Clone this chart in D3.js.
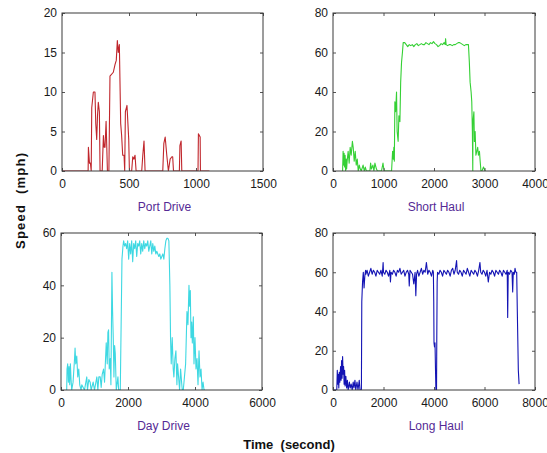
<!DOCTYPE html>
<html><head><meta charset="utf-8">
<script src="https://cdn.jsdelivr.net/npm/d3@7"></script>
<style>body{margin:0;background:#fff}svg{display:block}</style>
</head><body>
<svg id="c" width="547" height="453"></svg>
<script>
// ---------- data (time in s, speed in mph) ----------
const portDrive = [[0,0],[195,0],[197,3],[205,1],[212,1],[218,0],[222,8],[234,10],[246,10],[252,6],[259,4],[265,7],[271,8.7],[279,7.5],[284,0],[300,0],[309,4.5],[315,3],[321,3],[329,6.3],[339,0],[350,0],[358,12],[383,12.5],[396,13.5],[405,14],[413,16.5],[420,15],[428,16],[438,6],[445,4.5],[453,2],[463,2],[468,0],[473,7.5],[485,8.3],[498,4],[503,0],[520,0],[528,1.8],[537,1.5],[545,2],[553,0],[595,0],[603,2],[612,3.8],[620,0],[752,0],[760,3.5],[770,4.3],[782,2],[794,0],[807,1.5],[820,1.8],[826,1.8],[832,0],[876,0],[880,3.2],[889,3.8],[894,0],[1015,0],[1018,4.7],[1031,4.3],[1033,0],[1100,0]];

const shortHaul = [[190,0],[200,10],[210,3],[220,9],[230,2],[240,8],[250,0],[260,6],[270,1],[280,5],[300,10],[320,4],[340,12],[360,8],[384,15],[400,12],[420,5],[440,10],[460,3],[480,6],[500,0],[520,3],[540,1],[560,0],[596,3],[620,0],[640,2],[660,0],[730,0],[745,4],[760,1],[790,3],[810,0],[830,4],[860,1],[880,0],[960,0],[990,4],[1000,2],[1020,0],[1160,0],[1180,10],[1195,6],[1205,12],[1215,5],[1225,35],[1240,30],[1258,40],[1270,20],[1290,15],[1305,28],[1325,25],[1340,45],[1357,55],[1375,60],[1390,65],[1420,65],[1450,64],[1480,63],[1510,64],[1540,63.5],[1570,64],[1600,63],[1630,64],[1660,64.5],[1690,63.5],[1720,64],[1750,64.5],[1780,64],[1810,64],[1840,65],[1870,64.5],[1900,64],[1930,65],[1960,64.5],[1990,65.5],[2020,64.5],[2050,64],[2080,63],[2110,63.5],[2140,64.5],[2170,64],[2200,65],[2220,64],[2230,67],[2240,64],[2270,63.5],[2300,64],[2330,64],[2360,63.5],[2390,64],[2420,64],[2450,64.5],[2480,65],[2510,65],[2540,64.5],[2570,64],[2600,63.5],[2630,64],[2660,64],[2682,64],[2700,55],[2715,45],[2735,40],[2748,35],[2760,20],[2768,0],[2772,25],[2790,30],[2800,15],[2815,20],[2830,8],[2848,10],[2865,12],[2880,8],[2900,10],[2914,5],[2930,0],[2950,0],[2980,2],[3013,0]];

const dayDrive = [[170,0],[180,8],[200,10],[220,3],[240,9],[260,2],[280,10],[300,4],[320,0],[360,3],[400,11],[420,16],[440,10],[470,13],[500,5],[530,8],[560,2],[600,0],[620,2],[700,0],[770,5],[790,0],[830,4],[870,3],[900,0],[960,3],[1000,0],[1070,5],[1100,0],[1130,5],[1170,5],[1200,1],[1230,6],[1270,8],[1300,3],[1330,12],[1350,18],[1380,10],[1400,22],[1420,23],[1440,8],[1470,12],[1490,2],[1520,45],[1540,30],[1560,20],[1580,5],[1600,17],[1620,14],[1650,0],[1700,5],[1720,0],[1770,0],[1800,30],[1820,50],[1850,55],[1870,57],[1900,55],[1930,56],[1960,54],[1990,57],[2020,50],[2050,56],[2080,52],[2110,57],[2140,49],[2170,56],[2200,54],[2230,57],[2260,51],[2290,56],[2320,55],[2350,57],[2380,52],[2410,56],[2440,53],[2470,57],[2500,54],[2530,56],[2560,55],[2590,57],[2620,53],[2650,55],[2680,57],[2710,52],[2740,56],[2770,53],[2800,55],[2830,52],[2860,53],[2890,52],[2920,51],[2950,52],[2980,50],[3010,51],[3040,52],[3070,50],[3100,54],[3130,57],[3160,58],[3190,58],[3220,57],[3250,40],[3270,20],[3290,10],[3320,20],[3350,8],[3370,5],[3400,12],[3430,15],[3460,2],[3480,10],[3510,5],[3540,0],[3570,8],[3600,3],[3620,0],[3650,0],[3720,10],[3760,30],[3790,25],[3820,40],[3840,32],[3860,38],[3880,20],[3900,26],[3920,18],[3950,28],[3970,10],[4000,20],[4030,8],[4060,12],[4090,2],[4120,15],[4150,5],[4180,8],[4210,0],[4240,3],[4270,0],[4300,0]];

const longHaul = [[0,0],[150,0],[170,10],[190,3],[210,8],[230,1],[250,9],[270,4],[300,12],[320,5],[340,15],[360,6],[380,17],[400,8],[420,12],[440,3],[460,10],[480,2],[510,7],[540,1],[570,5],[600,0],[650,4],[680,1],[720,3],[760,0],[800,4],[830,1],[870,5],[900,0],[950,4],[990,0],[1040,5],[1070,0],[1125,0],[1140,45],[1170,55],[1200,60],[1230,52],[1260,58],[1290,61],[1300,59],[1350,61],[1400,58],[1450,60],[1500,62],[1550,59],[1600,61],[1650,60],[1700,58],[1750,61],[1800,60],[1850,59],[1900,61],[1950,58],[1985,65],[2000,60],[2050,59],[2100,61],[2150,60],[2200,58],[2250,61],[2275,55],[2300,60],[2350,59],[2400,61],[2450,60],[2500,58],[2550,61],[2600,60],[2650,62],[2700,59],[2750,60],[2800,61],[2850,58],[2900,60],[2950,61],[3000,59],[3020,53],[3050,61],[3100,60],[3150,59],[3200,54],[3250,60],[3280,48],[3310,59],[3350,61],[3400,58],[3450,60],[3500,62],[3550,59],[3600,61],[3650,60],[3700,65],[3750,59],[3800,61],[3850,60],[3900,58],[3950,61],[3975,60],[3990,45],[4000,24],[4020,22],[4040,24],[4060,10],[4075,0],[4100,0],[4110,25],[4125,55],[4140,60],[4190,59],[4240,61],[4290,60],[4340,58],[4390,61],[4440,60],[4490,59],[4540,61],[4590,60],[4640,58],[4690,61],[4740,62],[4790,59],[4840,61],[4894,66],[4920,60],[4970,59],[5020,61],[5070,60],[5120,58],[5170,61],[5220,60],[5270,59],[5320,62],[5370,60],[5420,58],[5470,61],[5520,60],[5570,59],[5620,61],[5670,60],[5720,58],[5770,61],[5820,65],[5850,60],[5900,59],[5950,61],[6000,60],[6050,58],[6100,61],[6150,55],[6200,60],[6250,59],[6300,61],[6350,60],[6400,58],[6450,61],[6500,60],[6550,59],[6600,61],[6650,60],[6700,58],[6750,61],[6800,60],[6850,59],[6900,61],[6918,37],[6940,60],[6990,59],[7040,61],[7090,60],[7116,50],[7140,60],[7180,59],[7209,62],[7240,60],[7275,60],[7300,40],[7340,10],[7370,3]];

const titles = ["Port Drive","Short Haul","Day Drive","Long Haul"];
const xDomains = [[0,1500],[0,4000],[0,6000],[0,8000]];
const yDomains = [[0,20],[0,80],[0,60],[0,80]];
const xTickVals = [[0,500,1000,1500],[0,1000,2000,3000,4000],[0,2000,4000,6000],[0,2000,4000,6000,8000]];
const yTickVals = [[0,5,10,15,20],[0,20,40,60,80],[0,20,40,60],[0,20,40,60,80]];
const yLabel = "Speed  (mph)";
const xLabel = "Time  (second)";

// ---------- drawing ----------
const svg = d3.select("#c");
const boxes = [[62,13,263,171],[333,13,535,171],[61,233,262,390],[333,233,535,390]];
const colors = ["#c0262c","#35d035","#3ed8e2","#1414b4"];
const series = [portDrive, shortHaul, dayDrive, longHaul];
const font = "Arial, 'Liberation Sans', sans-serif";
const fmt = d3.format("d");

series.forEach((data,i)=>{
  const [x0,y0,x1,y1] = boxes[i];
  const x = d3.scaleLinear().domain(xDomains[i]).range([x0,x1]);
  const y = d3.scaleLinear().domain(yDomains[i]).range([y1,y0]);
  const g = svg.append("g");
  g.append("clipPath").attr("id","cp"+i).append("rect")
    .attr("x",x0).attr("y",y0-1).attr("width",x1-x0).attr("height",y1-y0+1);
  g.append("path").datum(data)
    .attr("clip-path","url(#cp"+i+")")
    .attr("fill","none").attr("stroke",colors[i]).attr("stroke-width",1.1)
    .attr("stroke-linejoin","round")
    .attr("d", d3.line().x(d=>x(d[0])).y(d=>y(d[1])));
  // axes
  const ax = g.append("g").attr("transform",`translate(0,${y1})`)
    .call(d3.axisBottom(x).tickValues(xTickVals[i]).tickFormat(fmt).tickSizeInner(-3).tickSizeOuter(0).tickPadding(6));
  const ay = g.append("g").attr("transform",`translate(${x0},0)`)
    .call(d3.axisLeft(y).tickValues(yTickVals[i]).tickFormat(fmt).tickSizeInner(-3).tickSizeOuter(0).tickPadding(5));
  const axT = g.append("g").attr("transform",`translate(0,${y0})`)
    .call(d3.axisTop(x).tickValues(xTickVals[i]).tickSizeInner(-3).tickSizeOuter(0).tickFormat(""));
  const ayR = g.append("g").attr("transform",`translate(${x1},0)`)
    .call(d3.axisRight(y).tickValues(yTickVals[i]).tickSizeInner(-3).tickSizeOuter(0).tickFormat(""));
  [ax,ay,axT,ayR].forEach(a=>{
    a.select(".domain").remove();
    a.selectAll("line").attr("stroke","#555");
    a.selectAll("text").attr("fill","#1a1a1a").style("font-family",font).style("font-size","12px");
  });
  ax.selectAll("text").attr("dy","0.9em");
  g.append("rect").attr("x",x0).attr("y",y0).attr("width",x1-x0).attr("height",y1-y0)
    .attr("fill","none").attr("stroke","#3a3a3a").attr("stroke-width",1);
  g.append("text").attr("x",(x0+x1)/2+2).attr("y",y1+40).attr("text-anchor","middle")
    .style("font-family",font).style("font-size","12px").attr("fill","#552a95").text(titles[i]);
});

svg.append("text").attr("transform","translate(25,201) rotate(-90)").attr("text-anchor","middle")
  .style("font-family",font).style("font-size","13px").style("font-weight","bold").style("white-space","pre").attr("fill","#111")
  .attr("textLength",96).attr("lengthAdjust","spacing").text(yLabel);
svg.append("text").attr("x",289).attr("y",449).attr("text-anchor","middle")
  .style("font-family",font).style("font-size","13px").style("font-weight","bold").style("white-space","pre").attr("fill","#111")
  .text(xLabel);
</script>
</body></html>
